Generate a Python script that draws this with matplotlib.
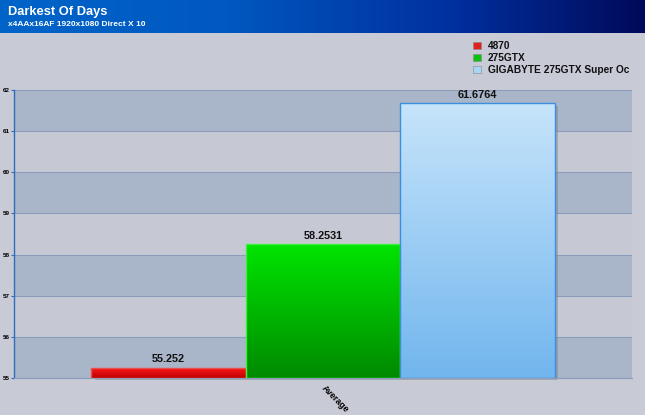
import numpy as np
import matplotlib
matplotlib.use("Agg")
import matplotlib.pyplot as plt
from matplotlib.colors import LinearSegmentedColormap
from matplotlib.patches import Rectangle

title = "Darkest Of Days"
subtitle = "x4AAx16AF 1920x1080 Direct X 10"
category = "Average"
series = ["4870", "275GTX", "GIGABYTE 275GTX Super Oc"]
values = [55.252, 58.2531, 61.6764]
value_labels = ["55.252", "58.2531", "61.6764"]
yticks = [55, 56, 57, 58, 59, 60, 61, 62]

grad_top = ["#ff1a1a", "#00e400", "#c6e4fa"]
grad_bot = ["#c00000", "#008a00", "#72b6ee"]
edges = ["#e85050", "#40f040", "#3c8ede"]
legend_colors = ["#e02020", "#10c010", "#a8d4f6"]

W, H = 645, 415
fig = plt.figure(figsize=(W / 100, H / 100), dpi=100)
fig.patch.set_facecolor("#c8cad6")

# header gradient
hax = fig.add_axes([0, 1 - 33 / H, 1, 33 / H])
hax.set_axis_off()
xs = np.linspace(0, 1, 400)
hcmap = LinearSegmentedColormap.from_list(
    "h", [(0, "#0064c8"), (0.35, "#0058c0"), (0.7, "#0030a0"), (1.0, "#000a5a")])
hax.imshow(xs[None, :], aspect="auto", cmap=hcmap, extent=[0, 1, 0, 1])
hax.set_xlim(0, 1)
hax.set_ylim(0, 1)
fig.text(8 / W, 1 - 12 / H, title, color="white", fontsize=9.3, fontweight="bold",
         family="Liberation Sans", va="center", ha="left")
fig.text(8 / W, 1 - 24.5 / H, subtitle, color="white", fontsize=6.0, fontweight="bold",
         family="Liberation Sans", va="center", ha="left")

# plot area
left, right, top, bottom = 14, 632, 90, 378
ax = fig.add_axes([left / W, 1 - bottom / H, (right - left) / W, (bottom - top) / H])
ax.set_facecolor("#c6c8d4")
ax.set_xlim(-0.5, 0.5)
ax.set_ylim(yticks[0], yticks[-1])
for i in range(len(yticks) - 1):
    if i % 2 == 0:
        ax.axhspan(yticks[i], yticks[i + 1], color="#a9b5c8", zorder=0, lw=0)
for yv in yticks:
    ax.axhline(yv, color="#8b9dbb", lw=0.8, zorder=0.5)

bw = 0.25
n = len(series)
xpos = [(i - (n - 1) / 2) * bw for i in range(n)]
base = yticks[0]
bars = ax.bar(xpos, [v - base for v in values], bottom=base, width=bw,
              color="none", edgecolor=edges, linewidth=1.0, zorder=3)
for i, b in enumerate(bars):
    x0, y0 = b.get_x(), b.get_y()
    w, h = b.get_width(), b.get_height()
    # shadow
    sh = Rectangle((x0 + 0.006, y0 - 0.06), w, h, transform=ax.transData,
                   facecolor="#707880", alpha=0.4, lw=0, zorder=1, clip_on=False)
    ax.add_patch(sh)
    cmap = LinearSegmentedColormap.from_list("b%d" % i, [grad_bot[i], grad_top[i]])
    im = ax.imshow(np.linspace(0, 1, 100)[:, None], aspect="auto", cmap=cmap,
                   extent=[x0, x0 + w, y0, y0 + h], origin="lower", zorder=2)
    im.set_clip_path(b)
    ax.text(xpos[i], values[i] + 0.08, value_labels[i], ha="center", va="bottom",
            fontsize=7.8, fontweight="bold", family="Liberation Sans", color="#111111",
            zorder=4)
ax.set_xlim(-0.5, 0.5)
ax.set_ylim(yticks[0], yticks[-1])

ax.set_yticks(yticks)
ax.set_yticklabels([str(t) for t in yticks], fontsize=4.5, fontweight="bold",
                   family="Liberation Sans")
ax.tick_params(axis="y", length=2, width=0.8, color="#2e6cc0", pad=1)
ax.set_xticks([0])
ax.set_xticklabels([category], rotation=-45, ha="left", va="center",
                   rotation_mode="anchor",
                   fontsize=6.3, fontweight="bold", family="Liberation Sans")
ax.tick_params(axis="x", length=0, pad=6)
for s in ["top", "right"]:
    ax.spines[s].set_visible(False)
ax.spines["bottom"].set_color("#8b9dbb")
ax.spines["left"].set_color("#2e6cc0")
ax.spines["left"].set_linewidth(1.0)

# legend
lx, ly0, dy = 473, 46, 12
for i, (s, c) in enumerate(zip(series, legend_colors)):
    yy = 1 - (ly0 + i * dy) / H
    fig.patches.append(Rectangle((lx / W, yy - 3.5 / H), 8 / W, 7 / H,
                                 transform=fig.transFigure, facecolor=c,
                                 edgecolor="#888888", lw=0.4))
    fig.text((lx + 15) / W, yy, s, fontsize=7.3, fontweight="bold",
             family="Liberation Sans", va="center", ha="left", color="#111111")

fig.savefig("out.png", dpi=100, facecolor=fig.get_facecolor())
